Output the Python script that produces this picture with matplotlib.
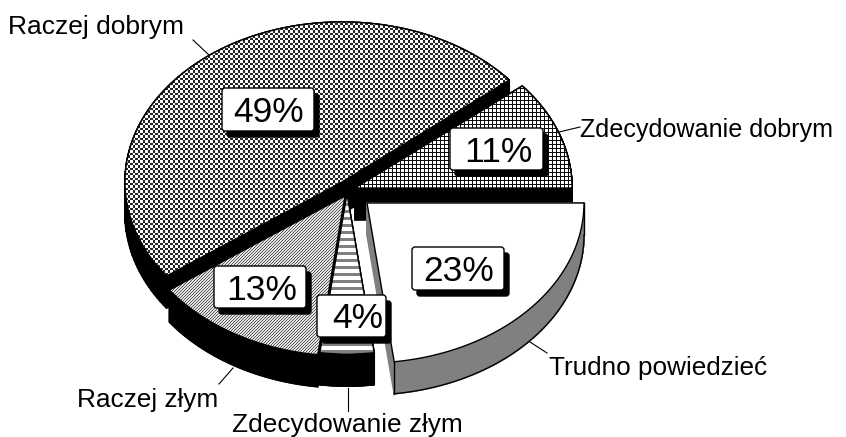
import numpy as np
from matplotlib import pyplot as plt
from matplotlib.collections import PolyCollection
from matplotlib.patches import FancyBboxPatch, Polygon

plt.rcParams['font.family'] = ['Liberation Sans', 'DejaVu Sans']

# shares in the order they run round the pie, counter-clockwise from 3 o'clock
names = ['Zdecydowanie dobrym', 'Raczej dobrym', 'Raczej złym', 'Zdecydowanie złym', 'Trudno powiedzieć']
shares = [11, 49, 13, 4, 23]

W, H = 846, 437
RX, RY = 217, 160
DEPTH = 32

# where each slice sits once pulled out of the pie (pixels)
centres = [(355, 188), (342, 182), (345, 196), (347, 194), (367, 203)]
side_colors = ['black', 'black', 'black', 'black', '#808080']
draw_order = [1, 0, 2, 3, 4]

# percent box left, top, right, bottom
boxes = [(450, 128, 543, 170), (222, 88, 314, 131), (214, 266, 306, 308),
         (317, 295, 386, 337), (412, 247, 504, 290)]
# the percent text is not quite centred in its box
text_shift = [2, 1, 2, 6.5, 1]
# name label position, font size and leader line
label_pos = [(580, 130, 'left'), (8, 27, 'left'), (218, 400, 'right'),
             (347, 425, 'center'), (549, 368, 'left')]
label_size = [18.1, 19.0, 18.9, 18.9, 18.8]
leaders = [((559, 132), (580, 127)), ((193, 40), (209, 55)), ((233, 368), (219, 384)),
           ((348, 388), (348, 411)), ((530, 342), (547, 353))]


def checker():
    y, x = np.mgrid[0:H, 0:W]
    cells = (np.floor(x / 2.5) + np.floor(y / 2.5)) % 2
    return np.where(cells == 0, 1.0, 0.15)


def grid():
    y, x = np.mgrid[0:H, 0:W]
    return np.where((x % 4 < 1) | (y % 4 < 1), 0.05, 1.0)


def diagonal():
    y, x = np.mgrid[0:H, 0:W]
    return np.where((x + y) % 3 < 1, 0.35, 0.88)


def stripes():
    y, x = np.mgrid[0:H, 0:W]
    return np.where(y % 7 < 3, 0.5, 1.0)


textures = [grid, checker, diagonal, stripes, None]


def slice_outline(centre, start, end):
    t = np.radians(np.linspace(start, end, 120))
    xs = centre[0] + RX * np.cos(t)
    ys = centre[1] - RY * np.sin(t)
    return np.column_stack([np.r_[centre[0], xs], np.r_[centre[1], ys]])


def main():
    fig = plt.figure(figsize=(W / 100, H / 100), dpi=100)
    ax = fig.add_axes([0, 0, 1, 1])
    ax.set_xlim(0, W)
    ax.set_ylim(H, 0)
    ax.axis('off')

    ends = np.cumsum(shares) * 3.6
    starts = np.r_[0, ends[:-1]]

    for z, i in enumerate(draw_order):
        pts = slice_outline(centres[i], starts[i], ends[i])
        closed = np.vstack([pts, pts[:1]])
        low = closed + [0, DEPTH]

        # walls of the slice, one quad per outline segment
        quads = [[closed[k], closed[k + 1], low[k + 1], low[k]] for k in range(len(closed) - 1)]
        ax.add_collection(PolyCollection(quads, facecolors=side_colors[i], edgecolors=side_colors[i],
                                         linewidths=1.2, zorder=z + 1))
        if side_colors[i] != 'black':
            ax.plot(low[1:-1, 0], low[1:-1, 1], color='black', lw=1, zorder=z + 1.1)
            ax.plot([pts[1, 0], low[1, 0]], [pts[1, 1], low[1, 1]], color='black', lw=1, zorder=z + 1.1)
            ax.plot([pts[-1, 0], low[-2, 0]], [pts[-1, 1], low[-2, 1]], color='black', lw=1, zorder=z + 1.1)

        top = Polygon(pts, closed=True, facecolor='white', edgecolor='black', lw=1, zorder=z + 1.2)
        ax.add_patch(top)
        if textures[i] is not None:
            im = ax.imshow(textures[i](), cmap='gray', vmin=0, vmax=1, extent=(0, W, H, 0),
                           interpolation='nearest', zorder=z + 1.3)
            im.set_clip_path(top)
            ax.set_xlim(0, W)
            ax.set_ylim(H, 0)
            ax.add_patch(Polygon(pts, closed=True, fill=False, edgecolor='black', lw=1, zorder=z + 1.4))

    for share, box, shift in zip(shares, boxes, text_shift):
        x0, y0, x1, y1 = box
        for dx, dy, fc in [(5, 6, 'black'), (0, 0, 'white')]:
            ax.add_patch(FancyBboxPatch((x0 + dx + 3, y0 + dy + 3), x1 - x0 - 6, y1 - y0 - 6,
                                        boxstyle='round,pad=3', facecolor=fc, edgecolor='black',
                                        lw=1, zorder=10))
        ax.text((x0 + x1) / 2 + shift, (y0 + y1) / 2 + 3, f'{share}%', fontsize=25.5, ha='center',
                va='center', color='black', zorder=11)

    for name, pos, size, line in zip(names, label_pos, label_size, leaders):
        ax.text(pos[0], pos[1], name, fontsize=size, ha=pos[2], va='center', color='black', zorder=12)
        ax.plot([line[0][0], line[1][0]], [line[0][1], line[1][1]], color='black', lw=0.8, zorder=12)

    fig.savefig('out.png', dpi=100)


if __name__ == '__main__':
    main()
